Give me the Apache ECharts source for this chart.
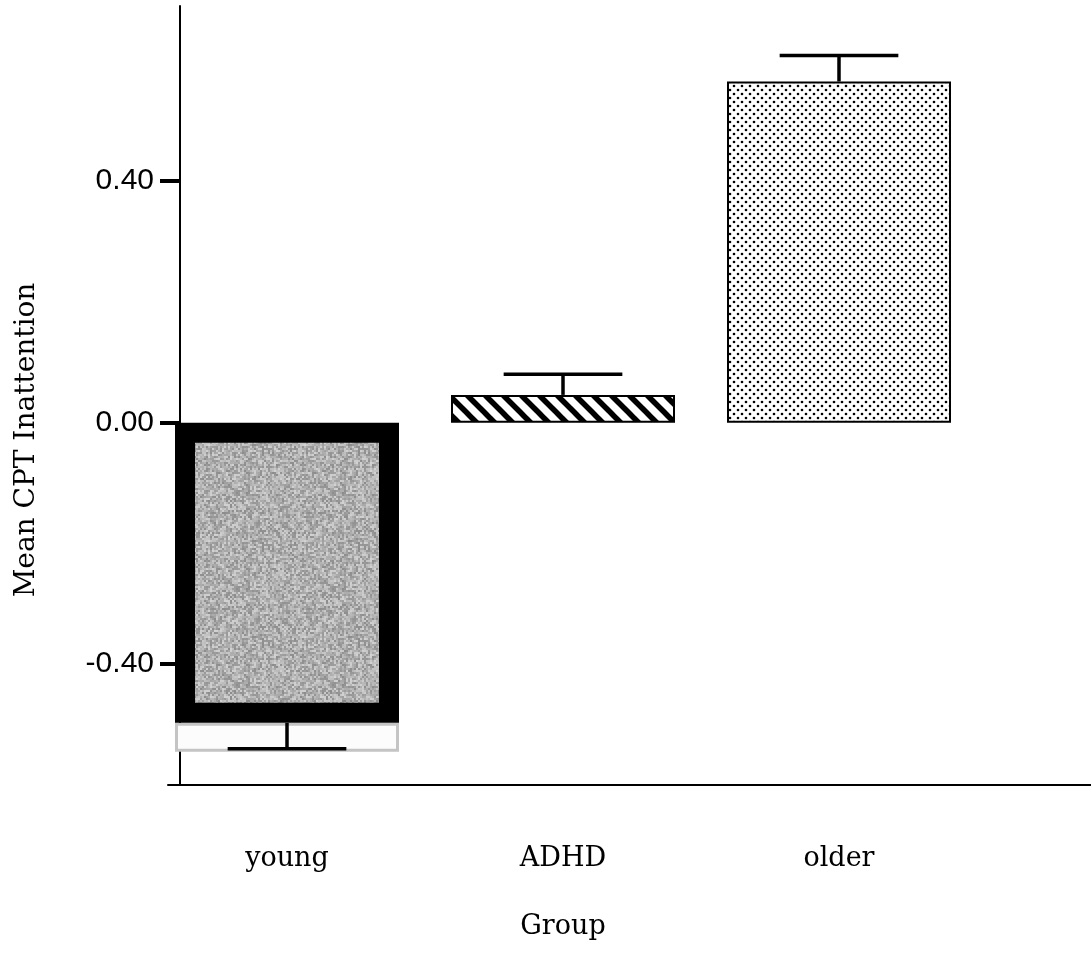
<!DOCTYPE html>
<html>
<head>
<meta charset="utf-8">
<script src="https://cdn.jsdelivr.net/npm/echarts@6/dist/echarts.min.js"></script>
<style>html,body{margin:0;padding:0;background:#fff;}#chart{width:1091px;height:955px;}</style>
</head>
<body>
<div id="chart"></div>
<script>
// ---- data ----
var categories = ['young', 'ADHD', 'older'];
var means = [-0.497, 0.046, 0.565];
var errorEnds = [-0.54, 0.080, 0.608];
var tickValues = [-0.4, 0, 0.4];
var youngStrip = [-0.048, null, null];

// ---- patterns ----
function noisePattern() {
  var c = document.createElement('canvas'); c.width = 96; c.height = 96;
  var ctx = c.getContext('2d');
  var s = 12345;
  function rnd() { s = (s * 1103515245 + 12345) & 0x7fffffff; return s / 0x7fffffff; }
  for (var y = 0; y < 96; y += 2) for (var x = 0; x < 96; x += 2) {
    var g = Math.round(140 + rnd() * 70);
    ctx.fillStyle = 'rgb(' + g + ',' + g + ',' + g + ')';
    ctx.fillRect(x, y, 2, 2);
  }
  return c;
}
function hatchPattern() {
  var c = document.createElement('canvas'); c.width = 18; c.height = 18;
  var ctx = c.getContext('2d');
  ctx.fillStyle = '#fff'; ctx.fillRect(0, 0, 18, 18);
  ctx.strokeStyle = '#000'; ctx.lineWidth = 5.5;
  for (var k = -18; k <= 18; k += 18) {
    ctx.beginPath(); ctx.moveTo(k - 2, -2); ctx.lineTo(k + 20, 20); ctx.stroke();
  }
  return c;
}
function dotPattern() {
  var c = document.createElement('canvas'); c.width = 8; c.height = 8;
  var ctx = c.getContext('2d');
  ctx.fillStyle = '#fff'; ctx.fillRect(0, 0, 8, 8);
  ctx.fillStyle = '#000';
  ctx.beginPath(); ctx.arc(2, 2, 1.3, 0, Math.PI * 2); ctx.fill();
  ctx.beginPath(); ctx.arc(6, 6, 1.3, 0, Math.PI * 2); ctx.fill();
  return c;
}
var fills = [
  { image: noisePattern(), repeat: 'repeat' },
  { image: hatchPattern(), repeat: 'repeat' },
  { image: dotPattern(), repeat: 'repeat' }
];
var borders = [{ c: '#000', w: 20 }, { c: '#000', w: 2 }, { c: '#000', w: 2 }];

var serif = '"DejaVu Serif", "Liberation Serif", serif';
var sans = '"Liberation Sans", Arial, sans-serif';

var chart = echarts.init(document.getElementById('chart'), null, { renderer: 'canvas' });
var option = {
  animation: false,
  backgroundColor: '#fff',
  grid: [
    { left: 149, width: 828, top: 6, bottom: 170 },
    { left: 168, right: 0, top: 6, bottom: 170 }
  ],
  xAxis: [
    {
      type: 'category', gridIndex: 0, data: categories,
      axisLine: { show: false }, axisTick: { show: false },
      axisLabel: { color: '#000', fontFamily: serif, fontSize: 27, margin: 60 },
      name: 'Group', nameLocation: 'middle', nameGap: 128,
      nameTextStyle: { color: '#000', fontFamily: serif, fontSize: 27 }
    },
    {
      type: 'value', gridIndex: 1, min: 0, max: 1,
      axisLine: { show: true, onZero: false, lineStyle: { color: '#000', width: 2 } },
      axisTick: { show: false }, axisLabel: { show: false }, splitLine: { show: false }
    }
  ],
  yAxis: [
    {
      type: 'value', gridIndex: 0, min: -0.6, max: 0.69,
      axisLine: { show: false }, axisTick: { show: false },
      axisLabel: { show: false }, splitLine: { show: false }
    },
    {
      type: 'value', gridIndex: 1, min: -0.6, max: 0.69, offset: -12,
      axisLine: { show: true, onZero: false, lineStyle: { color: '#000', width: 2 } },
      axisTick: { show: true, customValues: tickValues, length: 20, lineStyle: { color: '#000', width: 4 } },
      axisLabel: {
        customValues: tickValues, color: '#000', fontFamily: sans, fontSize: 30, margin: 26,
        formatter: function (v) { return v.toFixed(2); }
      },
      splitLine: { show: false }
    }
  ],
  graphic: [{
    type: 'text', x: 27, y: 440, rotation: Math.PI / 2,
    style: {
      text: 'Mean CPT Inattention', fill: '#000',
      font: '28px ' + serif, textAlign: 'center', textVerticalAlign: 'middle'
    }
  }],
  series: [
    {
      type: 'bar', xAxisIndex: 0, yAxisIndex: 0, stack: 'g', barWidth: 224, z: 3,
      data: means.map(function (v, i) {
        return { value: v, itemStyle: { color: fills[i], borderColor: borders[i].c, borderWidth: borders[i].w } };
      })
    },
    {
      type: 'bar', xAxisIndex: 0, yAxisIndex: 0, stack: 'g', barWidth: 224, z: 2,
      itemStyle: { color: '#fcfcfc', borderColor: '#c4c4c4', borderWidth: 3 },
      data: youngStrip
    },
    {
      type: 'custom', xAxisIndex: 0, yAxisIndex: 0, z: 5,
      data: categories.map(function (c, i) { return [i, means[i], errorEnds[i]]; }),
      renderItem: function (params, api) {
        var p0 = api.coord([api.value(0), api.value(1)]);
        var p1 = api.coord([api.value(0), api.value(2)]);
        var half = api.size([1, 0])[0] * 0.215;
        var st = { stroke: '#000', lineWidth: 3.5 };
        return {
          type: 'group',
          children: [
            { type: 'line', shape: { x1: p0[0], y1: p0[1], x2: p1[0], y2: p1[1] }, style: st },
            { type: 'line', shape: { x1: p1[0] - half, y1: p1[1], x2: p1[0] + half, y2: p1[1] }, style: st }
          ]
        };
      }
    }
  ]
};
chart.setOption(option);
</script>
</body>
</html>
